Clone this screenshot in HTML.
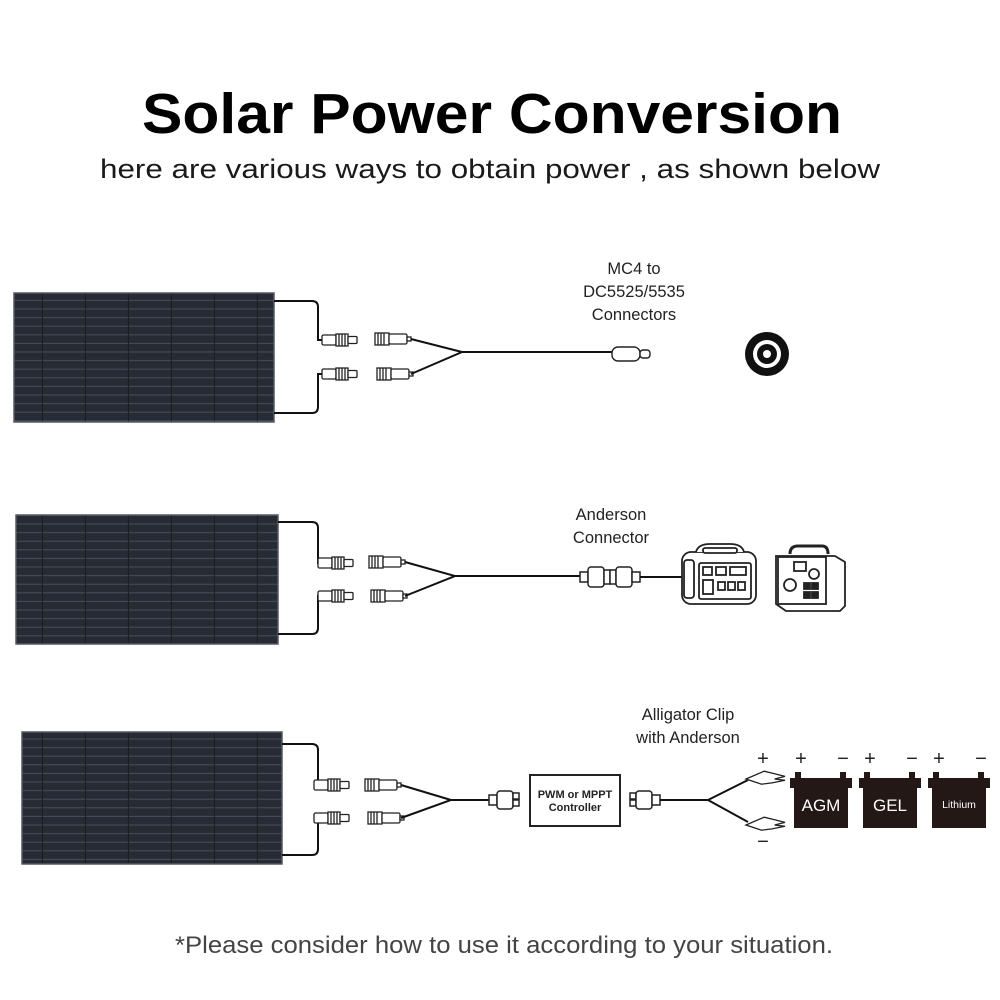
<!DOCTYPE html>
<html><head><meta charset="utf-8"><style>
html,body{margin:0;padding:0;background:#fff;}
svg{display:block;}
</style></head><body>
<svg width="1000" height="1000" viewBox="0 0 1000 1000" xmlns="http://www.w3.org/2000/svg">
<defs>
<pattern id="cells" width="43" height="8.6" patternUnits="userSpaceOnUse">
<rect width="43" height="8.6" fill="#262b34"/>
<line x1="0" y1="8" x2="43" y2="8" stroke="#4a5060" stroke-width="1"/>
<line x1="42.5" y1="0" x2="42.5" y2="8.6" stroke="#1a1e25" stroke-width="1.2"/>
</pattern>
<g id="fconn" fill="#fff" stroke="#222" stroke-width="1.3">
<rect x="0" y="-5" width="14" height="10" rx="1.5"/>
<rect x="14" y="-6" width="12" height="12"/>
<line x1="17" y1="-6" x2="17" y2="6"/><line x1="20" y1="-6" x2="20" y2="6"/><line x1="23" y1="-6" x2="23" y2="6"/>
<rect x="26" y="-3.5" width="9" height="7" rx="1"/>
</g>
<g id="mconn" fill="#fff" stroke="#222" stroke-width="1.3">
<rect x="0" y="-6" width="14" height="12"/>
<line x1="3" y1="-6" x2="3" y2="6"/><line x1="6" y1="-6" x2="6" y2="6"/><line x1="9" y1="-6" x2="9" y2="6"/>
<rect x="14" y="-5" width="18" height="10" rx="1.5"/>
<rect x="32" y="-2" width="4" height="4"/>
</g>
<g id="clip" fill="#fff" stroke="#222" stroke-width="1">
<path d="M0 0 L14 -6 L22 -4 L30 -2 L22 0 L30 1 L20 3 L12 4 Z" transform="scale(1.3)"/>
</g>
</defs>

<text x="492" y="133" font-family="Liberation Sans, sans-serif" font-weight="bold" font-size="57" text-anchor="middle" textLength="700" lengthAdjust="spacingAndGlyphs" fill="#000">Solar Power Conversion</text>
<text x="490" y="178" font-family="Liberation Sans, sans-serif" font-size="27" text-anchor="middle" textLength="780" lengthAdjust="spacingAndGlyphs" fill="#1a1a1a">here are various ways to obtain power , as shown below</text>

<!-- Row 1 -->
<rect x="14" y="293" width="260" height="129" fill="url(#cells)" stroke="#555a62" stroke-width="1.5"/>
<path d="M274 301 H312 Q318 301 318 307 V340 H322" fill="none" stroke="#111" stroke-width="2"/>
<path d="M274 413 H312 Q318 413 318 407 V374 H322" fill="none" stroke="#111" stroke-width="2"/>
<use href="#fconn" x="322" y="340"/>
<use href="#fconn" x="322" y="374"/>
<use href="#mconn" x="375" y="339"/>
<use href="#mconn" x="377" y="374"/>
<path d="M411 339 L462 352 L411 374 M462 352 H612" fill="none" stroke="#111" stroke-width="2"/>
<rect x="612" y="347" width="28" height="14" rx="6" fill="#fff" stroke="#222" stroke-width="1.4"/>
<rect x="640" y="350" width="10" height="8" rx="3" fill="#fff" stroke="#222" stroke-width="1.4"/>
<g font-family="Liberation Sans, sans-serif" font-size="16.5" fill="#222" text-anchor="middle">
<text x="634" y="274">MC4 to</text>
<text x="634" y="297">DC5525/5535</text>
<text x="634" y="320">Connectors</text>
</g>
<circle cx="767" cy="354" r="22" fill="#111"/>
<circle cx="767" cy="354" r="14" fill="#fff"/>
<circle cx="767" cy="354" r="10" fill="#111"/>
<circle cx="767" cy="354" r="4" fill="#fff"/>

<!-- Row 2 -->
<rect x="16" y="515" width="262" height="129" fill="url(#cells)" stroke="#555a62" stroke-width="1.5"/>
<path d="M278 522 H312 Q318 522 318 528 V563 H320" fill="none" stroke="#111" stroke-width="2"/>
<path d="M278 634 H312 Q318 634 318 628 V596 H320" fill="none" stroke="#111" stroke-width="2"/>
<use href="#fconn" x="318" y="563"/>
<use href="#fconn" x="318" y="596"/>
<use href="#mconn" x="369" y="562"/>
<use href="#mconn" x="371" y="596"/>
<path d="M405 562 L455 576 L405 596 M455 576 H580" fill="none" stroke="#111" stroke-width="2"/>
<g fill="#fff" stroke="#222" stroke-width="1.5">
<rect x="580" y="572" width="8" height="10"/>
<rect x="588" y="567" width="16" height="20" rx="3"/>
<rect x="604" y="570" width="6" height="14"/>
<rect x="610" y="570" width="6" height="14"/>
<rect x="616" y="567" width="16" height="20" rx="3"/>
<rect x="632" y="572" width="8" height="10"/>
</g>
<path d="M640 577 H683" stroke="#111" stroke-width="2"/>
<g font-family="Liberation Sans, sans-serif" font-size="16.5" fill="#222" text-anchor="middle">
<text x="611" y="520">Anderson</text>
<text x="611" y="543">Connector</text>
</g>
<g fill="#fff" stroke="#222" stroke-width="1.8">
<rect x="682" y="552" width="74" height="52" rx="9"/>
<path d="M696 552 Q698 544 710 544 H730 Q742 544 744 552"/>
<rect x="703" y="548" width="34" height="5" rx="2"/>
<rect x="684" y="560" width="10" height="38" rx="3"/>
<rect x="699" y="563" width="52" height="36" rx="2"/>
<rect x="703" y="567" width="9" height="8"/><rect x="716" y="567" width="10" height="8"/><rect x="730" y="567" width="16" height="8"/>
<rect x="703" y="580" width="10" height="14"/>
<rect x="718" y="582" width="7" height="8"/><rect x="728" y="582" width="7" height="8"/><rect x="738" y="582" width="7" height="8"/>
</g>
<g fill="#fff" stroke="#222" stroke-width="1.8">
<path d="M790 554 Q790 546 798 546 H822 Q828 546 828 554" fill="none" stroke-width="3"/>
<path d="M776 556 H835 L845 562 V606 L840 611 H786 L776 604 Z"/>
<rect x="778" y="557" width="48" height="47"/>
<rect x="794" y="562" width="12" height="9"/>
<circle cx="814" cy="574" r="5"/>
<circle cx="790" cy="585" r="6"/>
<rect x="804" y="583" width="6" height="6" fill="#222"/><rect x="812" y="583" width="6" height="6" fill="#222"/>
<rect x="804" y="592" width="6" height="6" fill="#222"/><rect x="812" y="592" width="6" height="6" fill="#222"/>
</g>

<!-- Row 3 -->
<rect x="22" y="732" width="260" height="132" fill="url(#cells)" stroke="#555a62" stroke-width="1.5"/>
<path d="M282 744 H312 Q318 744 318 750 V784 H316" fill="none" stroke="#111" stroke-width="2"/>
<path d="M282 855 H312 Q318 855 318 849 V818 H316" fill="none" stroke="#111" stroke-width="2"/>
<use href="#fconn" x="314" y="785"/>
<use href="#fconn" x="314" y="818"/>
<use href="#mconn" x="365" y="785"/>
<use href="#mconn" x="368" y="818"/>
<path d="M401 785 L451 800 L401 818 M451 800 H489" fill="none" stroke="#111" stroke-width="2"/>
<g fill="#fff" stroke="#222" stroke-width="1.5">
<rect x="489" y="795" width="8" height="10"/>
<rect x="497" y="791" width="16" height="18" rx="3"/>
<rect x="513" y="793" width="6" height="6"/><rect x="513" y="800" width="6" height="6"/>
</g>
<rect x="530" y="775" width="90" height="51" fill="#fff" stroke="#222" stroke-width="2"/>
<g font-family="Liberation Sans, sans-serif" font-size="11" font-weight="bold" fill="#222" text-anchor="middle">
<text x="575" y="798">PWM or MPPT</text>
<text x="575" y="811">Controller</text>
</g>
<g fill="#fff" stroke="#222" stroke-width="1.5">
<rect x="630" y="793" width="6" height="6"/><rect x="630" y="800" width="6" height="6"/>
<rect x="636" y="791" width="16" height="18" rx="3"/>
<rect x="652" y="795" width="8" height="10"/>
</g>
<path d="M660 800 H708 L748 780 M708 800 L748 822" fill="none" stroke="#111" stroke-width="2"/>
<use href="#clip" x="746" y="779"/>
<use href="#clip" x="746" y="825"/>
<g font-family="Liberation Sans, sans-serif" font-size="20" fill="#222" text-anchor="middle">
<text x="763" y="765">+</text>
<text x="763" y="848">−</text>
<text x="801" y="765">+</text><text x="843" y="765">−</text>
<text x="870" y="765">+</text><text x="912" y="765">−</text>
<text x="939" y="765">+</text><text x="981" y="765">−</text>
</g>
<g fill="#231815">
<rect x="795" y="772" width="6" height="8"/><rect x="840" y="772" width="6" height="8"/>
<rect x="790" y="778" width="62" height="10"/><rect x="794" y="786" width="54" height="42"/>
<rect x="864" y="772" width="6" height="8"/><rect x="909" y="772" width="6" height="8"/>
<rect x="859" y="778" width="62" height="10"/><rect x="863" y="786" width="54" height="42"/>
<rect x="933" y="772" width="6" height="8"/><rect x="978" y="772" width="6" height="8"/>
<rect x="928" y="778" width="62" height="10"/><rect x="932" y="786" width="54" height="42"/>
</g>
<g font-family="Liberation Sans, sans-serif" fill="#fff" text-anchor="middle">
<text x="821" y="811" font-size="17">AGM</text>
<text x="890" y="811" font-size="17">GEL</text>
<text x="959" y="808" font-size="10.5">Lithium</text>
</g>
<g font-family="Liberation Sans, sans-serif" font-size="16.5" fill="#222" text-anchor="middle">
<text x="688" y="720">Alligator Clip</text>
<text x="688" y="743">with Anderson</text>
</g>

<text x="504" y="953" font-family="Liberation Sans, sans-serif" font-size="24" text-anchor="middle" textLength="658" lengthAdjust="spacingAndGlyphs" fill="#444">*Please consider how to use it according to your situation.</text>
</svg>
</body></html>
